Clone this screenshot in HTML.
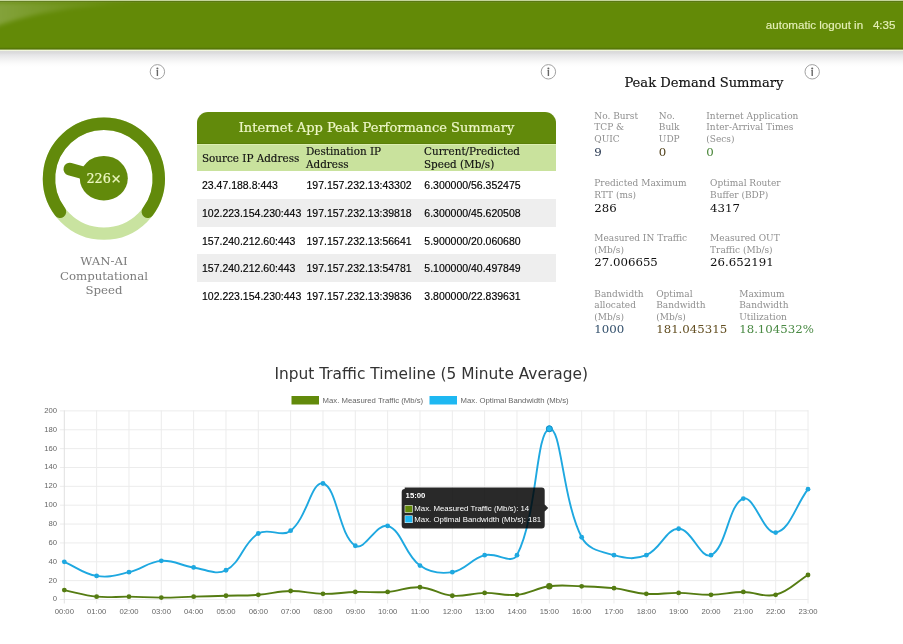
<!DOCTYPE html>
<html><head><meta charset="utf-8"><title>Dashboard</title>
<style>
*{margin:0;padding:0;box-sizing:border-box}
html,body{width:903px;height:644px;overflow:hidden;background:#fff}
body{position:relative;font-family:"Liberation Sans",Arial,sans-serif}
.abs{position:absolute}
#hdr{left:0;top:0;width:903px;height:51px;
 background:linear-gradient(to bottom,#c4d59a 0,#c4d59a 0.8px,#5a7812 1.2px,#5a7812 1.9px,#6b8c16 2.3px,#638a07 3.5px,#638a07 47.3px,#587a08 48px,#557508 49.3px,#eef4d8 49.8px,#f2f6e2 51px);}
#shadow{left:0;top:51px;width:903px;height:16px;background:linear-gradient(to bottom,#d9d9d9 0,#dcdcdd 2px,#e6e6e8 4px,#eeeeef 7px,#f6f6f6 10px,#fcfcfc 13px,#fff 16px)}
.lo{top:18.2px;color:#e6f0b8;font-size:11.6px;white-space:pre;-webkit-text-stroke:0.15px #e6f0b8}
.serif{font-family:"DejaVu Serif",serif}
.ttl{position:absolute;left:197px;top:112px;width:359px;height:32px;background:#628a0b;border-radius:11px 11px 0 0;box-shadow:inset 0 -1px 0 #5a7f09;
 color:#eef7c8;font-family:"DejaVu Serif",serif;font-size:13px;text-align:center;line-height:32px;-webkit-text-stroke:0.2px #eef7c8}
.thead{position:absolute;left:197px;top:144px;width:359px;height:26.6px;background:#c9e29d;border-top:1px solid #dcefb1}
.th{position:absolute;font-family:"DejaVu Serif",serif;font-size:10.4px;color:#111;line-height:12.5px;-webkit-text-stroke:0.15px #111}
.row{position:absolute;left:197px;width:359px;height:27.6px}
.row.g{background:#eeeeee}
.td{position:absolute;font-size:10.5px;color:#000;white-space:nowrap;-webkit-text-stroke:0.15px #000}
.pl{position:absolute;font-family:"DejaVu Serif",serif;font-size:9px;line-height:11.6px;color:#8f8f8f;white-space:nowrap}
.pv{position:absolute;font-family:"DejaVu Serif",serif;font-size:11.75px;color:#111;white-space:nowrap}
</style></head><body>
<div id="hdr" class="abs"></div><div id="shadow" class="abs"></div>
<svg class="abs" style="left:0;top:0" width="200" height="40"><defs><linearGradient id="sg" x1="0" y1="0" x2="1" y2="0"><stop offset="0" stop-color="#fff" stop-opacity="0.22"/><stop offset="0.45" stop-color="#fff" stop-opacity="0.1"/><stop offset="1" stop-color="#fff" stop-opacity="0"/></linearGradient><filter id="sb"><feGaussianBlur stdDeviation="2.2"/></filter></defs>
<path d="M-8,2.2 H150 C100,4 40,9 -8,28 Z" fill="url(#sg)" filter="url(#sb)"/></svg>
<div class="lo abs" style="left:765.8px">automatic logout in</div><div class="lo abs" style="left:872.9px">4:35</div>

<svg class="abs" style="left:0;top:0" width="903" height="644" viewBox="0 0 903 644">
 <g fill="none" stroke="#a2a2a2" stroke-width="1">
  <circle cx="157.4" cy="71.8" r="7.2"/>
  <circle cx="548.4" cy="71.8" r="7.2"/>
  <circle cx="812.2" cy="71.8" r="7.2"/>
 </g>
 <g fill="#666">
  <circle cx="157.4" cy="68.5" r="1.05"/><path d="M156.25,70.0 H158.10 V76 H156.70 V70.6 H156.25 Z"/>
  <circle cx="548.4" cy="68.5" r="1.05"/><path d="M547.25,70.0 H549.10 V76 H547.70 V70.6 H547.25 Z"/>
  <circle cx="812.2" cy="68.5" r="1.05"/><path d="M811.05,70.0 H812.90 V76 H811.50 V70.6 H811.05 Z"/>
 </g>
 <!-- gauge -->
 <circle cx="103.9" cy="178.7" r="54.9" fill="none" stroke="#c9e3a0" stroke-width="12.4"/>
 <path d="M60.05,211.74 A54.9,54.9 0 1 1 147.75,211.74" fill="none" stroke="#628a0b" stroke-width="12.4" stroke-linecap="round"/>
 <line x1="100" y1="177.5" x2="69.8" y2="169.1" stroke="#628a0b" stroke-width="12.6" stroke-linecap="round"/>
 <ellipse cx="103.8" cy="178.2" rx="24" ry="22.3" fill="#628a0b"/>
 <text x="104" y="183" text-anchor="middle" font-family="DejaVu Serif, serif" font-size="12.8" fill="#ecf7c0" stroke="#ecf7c0" stroke-width="0.2">226×</text>
 <g font-family="DejaVu Serif, serif" font-size="11.75" fill="#7c7c7c" text-anchor="middle">
  <text x="104" y="264.7">WAN-AI</text>
  <text x="104" y="279.5">Computational</text>
  <text x="104" y="294.3">Speed</text>
 </g>
</svg>

<div class="ttl">Internet App Peak Performance Summary</div>
<div class="thead"></div>
<div class="th" style="left:202px;top:152px">Source IP Address</div>
<div class="th" style="left:306px;top:145px">Destination IP<br>Address</div>
<div class="th" style="left:424px;top:145px">Current/Predicted<br>Speed (Mb/s)</div>
<div class="row" style="top:171.4px"></div>
<div class="td" style="left:202px;top:179.4px">23.47.188.8:443</div>
<div class="td" style="left:306.5px;top:179.4px">197.157.232.13:43302</div>
<div class="td" style="left:424.3px;top:179.4px">6.300000/56.352475</div>
<div class="row g" style="top:199.1px"></div>
<div class="td" style="left:202px;top:207.1px">102.223.154.230:443</div>
<div class="td" style="left:306.5px;top:207.1px">197.157.232.13:39818</div>
<div class="td" style="left:424.3px;top:207.1px">6.300000/45.620508</div>
<div class="row" style="top:226.8px"></div>
<div class="td" style="left:202px;top:234.8px">157.240.212.60:443</div>
<div class="td" style="left:306.5px;top:234.8px">197.157.232.13:56641</div>
<div class="td" style="left:424.3px;top:234.8px">5.900000/20.060680</div>
<div class="row g" style="top:254.4px"></div>
<div class="td" style="left:202px;top:262.4px">157.240.212.60:443</div>
<div class="td" style="left:306.5px;top:262.4px">197.157.232.13:54781</div>
<div class="td" style="left:424.3px;top:262.4px">5.100000/40.497849</div>
<div class="row" style="top:282.0px"></div>
<div class="td" style="left:202px;top:290.0px">102.223.154.230:443</div>
<div class="td" style="left:306.5px;top:290.0px">197.157.232.13:39836</div>
<div class="td" style="left:424.3px;top:290.0px">3.800000/22.839631</div>

<div class="serif abs" style="left:624.4px;top:75px;font-size:13.1px;color:#111;white-space:nowrap;-webkit-text-stroke:0.15px #111">Peak Demand Summary</div>
<div class="pl" style="left:594.3px;top:110.5px">No. Burst<br>TCP &amp;<br>QUIC</div>
<div class="pv" style="left:594.3px;top:144.5px;color:#26364f">9</div>
<div class="pl" style="left:658.8px;top:110.5px">No.<br>Bulk<br>UDP</div>
<div class="pv" style="left:658.8px;top:144.5px;color:#4f3f18">0</div>
<div class="pl" style="left:706.3px;top:110.5px">Internet Application<br>Inter-Arrival Times<br>(Secs)</div>
<div class="pv" style="left:706.3px;top:144.5px;color:#478436">0</div>
<div class="pl" style="left:594.3px;top:178.4px">Predicted Maximum<br>RTT (ms)</div>
<div class="pv" style="left:594.3px;top:200.7px;color:#111">286</div>
<div class="pl" style="left:710.1px;top:178.4px">Optimal Router<br>Buffer (BDP)</div>
<div class="pv" style="left:710.1px;top:200.7px;color:#111">4317</div>
<div class="pl" style="left:594.3px;top:233.1px">Measured IN Traffic<br>(Mb/s)</div>
<div class="pv" style="left:594.3px;top:254.9px;color:#111">27.006655</div>
<div class="pl" style="left:710.1px;top:233.1px">Measured OUT<br>Traffic (Mb/s)</div>
<div class="pv" style="left:710.1px;top:254.9px;color:#111">26.652191</div>
<div class="pl" style="left:594.3px;top:288.7px">Bandwidth<br>allocated<br>(Mb/s)</div>
<div class="pv" style="left:594.3px;top:321.9px;color:#33506c">1000</div>
<div class="pl" style="left:656.2px;top:288.7px">Optimal<br>Bandwidth<br>(Mb/s)</div>
<div class="pv" style="left:656.2px;top:321.9px;color:#634f22">181.045315</div>
<div class="pl" style="left:739.2px;top:288.7px">Maximum<br>Bandwidth<br>Utilization</div>
<div class="pv" style="left:739.2px;top:321.9px;color:#4a8a44">18.104532%</div>

<div class="abs" style="left:274.4px;top:364.7px;font-family:'DejaVu Sans',sans-serif;font-size:15.4px;color:#333;white-space:nowrap">Input Traffic Timeline (5 Minute Average)</div>
<svg class="abs" style="left:0;top:0" width="903" height="644" viewBox="0 0 903 644">
<rect x="291.5" y="396" width="27.5" height="8.5" fill="#628a0b"/>
<rect x="429.5" y="396" width="27.5" height="8.5" fill="#1eb8f2"/>
<g font-family="Liberation Sans, Arial, sans-serif" font-size="7.75" fill="#666">
<text x="322.5" y="403">Max. Measured Traffic (Mb/s)</text>
<text x="460.5" y="403">Max. Optimal Bandwidth (Mb/s)</text>
</g>
<g stroke="#ececec" stroke-width="1"><line x1="59.8" y1="599.50" x2="808.5" y2="599.50"/><line x1="59.8" y1="580.64" x2="808.5" y2="580.64"/><line x1="59.8" y1="561.78" x2="808.5" y2="561.78"/><line x1="59.8" y1="542.92" x2="808.5" y2="542.92"/><line x1="59.8" y1="524.06" x2="808.5" y2="524.06"/><line x1="59.8" y1="505.20" x2="808.5" y2="505.20"/><line x1="59.8" y1="486.34" x2="808.5" y2="486.34"/><line x1="59.8" y1="467.48" x2="808.5" y2="467.48"/><line x1="59.8" y1="448.62" x2="808.5" y2="448.62"/><line x1="59.8" y1="429.76" x2="808.5" y2="429.76"/><line x1="59.8" y1="410.90" x2="808.5" y2="410.90"/><line x1="64.30" y1="410.4" x2="64.30" y2="603.5" stroke="#e0e0e0"/><line x1="96.63" y1="410.4" x2="96.63" y2="603.5"/><line x1="128.97" y1="410.4" x2="128.97" y2="603.5"/><line x1="161.30" y1="410.4" x2="161.30" y2="603.5"/><line x1="193.64" y1="410.4" x2="193.64" y2="603.5"/><line x1="225.97" y1="410.4" x2="225.97" y2="603.5"/><line x1="258.31" y1="410.4" x2="258.31" y2="603.5"/><line x1="290.64" y1="410.4" x2="290.64" y2="603.5"/><line x1="322.98" y1="410.4" x2="322.98" y2="603.5"/><line x1="355.31" y1="410.4" x2="355.31" y2="603.5"/><line x1="387.65" y1="410.4" x2="387.65" y2="603.5"/><line x1="419.98" y1="410.4" x2="419.98" y2="603.5"/><line x1="452.32" y1="410.4" x2="452.32" y2="603.5"/><line x1="484.65" y1="410.4" x2="484.65" y2="603.5"/><line x1="516.99" y1="410.4" x2="516.99" y2="603.5"/><line x1="549.32" y1="410.4" x2="549.32" y2="603.5"/><line x1="581.66" y1="410.4" x2="581.66" y2="603.5"/><line x1="613.99" y1="410.4" x2="613.99" y2="603.5"/><line x1="646.33" y1="410.4" x2="646.33" y2="603.5"/><line x1="678.66" y1="410.4" x2="678.66" y2="603.5"/><line x1="711.00" y1="410.4" x2="711.00" y2="603.5"/><line x1="743.33" y1="410.4" x2="743.33" y2="603.5"/><line x1="775.67" y1="410.4" x2="775.67" y2="603.5"/><line x1="808.00" y1="410.4" x2="808.00" y2="603.5"/></g>
<g font-family="Liberation Sans, Arial, sans-serif" font-size="7.7" fill="#666"><text x="57.1" y="601.4" text-anchor="end">0</text><text x="57.1" y="582.5" text-anchor="end">20</text><text x="57.1" y="563.7" text-anchor="end">40</text><text x="57.1" y="544.8" text-anchor="end">60</text><text x="57.1" y="526.0" text-anchor="end">80</text><text x="57.1" y="507.1" text-anchor="end">100</text><text x="57.1" y="488.2" text-anchor="end">120</text><text x="57.1" y="469.4" text-anchor="end">140</text><text x="57.1" y="450.5" text-anchor="end">160</text><text x="57.1" y="431.7" text-anchor="end">180</text><text x="57.1" y="412.8" text-anchor="end">200</text><text x="64.3" y="614.2" text-anchor="middle">00:00</text><text x="96.6" y="614.2" text-anchor="middle">01:00</text><text x="129.0" y="614.2" text-anchor="middle">02:00</text><text x="161.3" y="614.2" text-anchor="middle">03:00</text><text x="193.6" y="614.2" text-anchor="middle">04:00</text><text x="226.0" y="614.2" text-anchor="middle">05:00</text><text x="258.3" y="614.2" text-anchor="middle">06:00</text><text x="290.6" y="614.2" text-anchor="middle">07:00</text><text x="323.0" y="614.2" text-anchor="middle">08:00</text><text x="355.3" y="614.2" text-anchor="middle">09:00</text><text x="387.6" y="614.2" text-anchor="middle">10:00</text><text x="420.0" y="614.2" text-anchor="middle">11:00</text><text x="452.3" y="614.2" text-anchor="middle">12:00</text><text x="484.7" y="614.2" text-anchor="middle">13:00</text><text x="517.0" y="614.2" text-anchor="middle">14:00</text><text x="549.3" y="614.2" text-anchor="middle">15:00</text><text x="581.7" y="614.2" text-anchor="middle">16:00</text><text x="614.0" y="614.2" text-anchor="middle">17:00</text><text x="646.3" y="614.2" text-anchor="middle">18:00</text><text x="678.7" y="614.2" text-anchor="middle">19:00</text><text x="711.0" y="614.2" text-anchor="middle">20:00</text><text x="743.3" y="614.2" text-anchor="middle">21:00</text><text x="775.7" y="614.2" text-anchor="middle">22:00</text><text x="808.0" y="614.2" text-anchor="middle">23:00</text></g>
<path d="M64.30,590.07 C77.23,592.71 83.57,595.34 96.63,596.67 C109.44,597.98 116.04,596.48 128.97,596.67 C141.91,596.86 148.37,597.61 161.30,597.61 C174.24,597.61 180.71,597.05 193.64,596.67 C206.57,596.29 213.04,596.11 225.97,595.73 C238.91,595.35 245.42,595.73 258.31,594.78 C271.28,593.84 277.69,591.20 290.64,591.01 C303.56,590.82 310.03,593.65 322.98,593.84 C335.90,594.03 342.37,592.33 355.31,591.96 C368.24,591.58 374.78,592.89 387.65,591.96 C400.65,591.01 407.20,586.50 419.98,587.24 C433.06,588.00 439.19,594.58 452.32,595.73 C465.06,596.84 471.70,593.09 484.65,592.90 C497.57,592.71 504.26,596.08 516.99,594.78 C530.13,593.44 536.17,588.02 549.32,586.30 C562.04,584.63 568.73,585.92 581.66,586.30 C594.60,586.68 601.14,586.69 613.99,588.18 C627.01,589.70 633.30,592.89 646.33,593.84 C659.17,594.78 665.74,592.71 678.66,592.90 C691.60,593.09 698.08,594.97 711.00,594.78 C723.94,594.60 730.40,591.96 743.33,591.96 C756.26,591.96 763.73,597.92 775.67,594.78 C789.60,591.13 795.07,582.90 808.00,574.98" fill="none" stroke="#557c12" stroke-width="1.9"/>
<path d="M64.30,561.78 C77.23,567.44 83.18,573.77 96.63,575.92 C109.05,577.92 116.37,575.09 128.97,572.15 C142.23,569.06 148.13,561.80 161.30,560.84 C174.00,559.91 180.60,565.54 193.64,567.44 C206.47,569.31 215.66,575.68 225.97,570.27 C241.53,562.10 242.75,543.02 258.31,533.49 C268.62,527.18 281.28,537.90 290.64,530.66 C307.14,517.91 311.36,480.80 322.98,483.51 C337.23,486.84 338.52,534.73 355.31,545.75 C364.39,551.71 376.63,522.57 387.65,525.95 C402.50,530.49 404.26,554.32 419.98,565.55 C430.13,572.80 440.04,574.12 452.32,572.15 C465.91,569.97 470.93,558.78 484.65,555.18 C496.80,551.99 511.85,565.22 516.99,555.18 C537.72,514.68 535.47,432.65 549.32,428.82 C561.34,425.49 562.16,499.16 581.66,537.26 C588.03,549.71 600.19,551.36 613.99,555.18 C626.06,558.52 635.04,559.79 646.33,555.18 C660.90,549.23 665.73,528.77 678.66,528.77 C691.59,528.77 700.90,559.89 711.00,555.18 C726.76,547.82 728.29,503.86 743.33,498.60 C754.15,494.81 763.66,534.30 775.67,532.55 C789.52,530.53 795.07,506.52 808.00,489.17" fill="none" stroke="#1ea8e0" stroke-width="1.9"/>
<g fill="#557c12"><circle cx="64.30" cy="590.07" r="2.4"/><circle cx="96.63" cy="596.67" r="2.4"/><circle cx="128.97" cy="596.67" r="2.4"/><circle cx="161.30" cy="597.61" r="2.4"/><circle cx="193.64" cy="596.67" r="2.4"/><circle cx="225.97" cy="595.73" r="2.4"/><circle cx="258.31" cy="594.78" r="2.4"/><circle cx="290.64" cy="591.01" r="2.4"/><circle cx="322.98" cy="593.84" r="2.4"/><circle cx="355.31" cy="591.96" r="2.4"/><circle cx="387.65" cy="591.96" r="2.4"/><circle cx="419.98" cy="587.24" r="2.4"/><circle cx="452.32" cy="595.73" r="2.4"/><circle cx="484.65" cy="592.90" r="2.4"/><circle cx="516.99" cy="594.78" r="2.4"/><circle cx="549.32" cy="586.30" r="3.2"/><circle cx="581.66" cy="586.30" r="2.4"/><circle cx="613.99" cy="588.18" r="2.4"/><circle cx="646.33" cy="593.84" r="2.4"/><circle cx="678.66" cy="592.90" r="2.4"/><circle cx="711.00" cy="594.78" r="2.4"/><circle cx="743.33" cy="591.96" r="2.4"/><circle cx="775.67" cy="594.78" r="2.4"/><circle cx="808.00" cy="574.98" r="2.4"/></g>
<g fill="#1ea8e0"><circle cx="64.30" cy="561.78" r="2.4"/><circle cx="96.63" cy="575.92" r="2.4"/><circle cx="128.97" cy="572.15" r="2.4"/><circle cx="161.30" cy="560.84" r="2.4"/><circle cx="193.64" cy="567.44" r="2.4"/><circle cx="225.97" cy="570.27" r="2.4"/><circle cx="258.31" cy="533.49" r="2.4"/><circle cx="290.64" cy="530.66" r="2.4"/><circle cx="322.98" cy="483.51" r="2.4"/><circle cx="355.31" cy="545.75" r="2.4"/><circle cx="387.65" cy="525.95" r="2.4"/><circle cx="419.98" cy="565.55" r="2.4"/><circle cx="452.32" cy="572.15" r="2.4"/><circle cx="484.65" cy="555.18" r="2.4"/><circle cx="516.99" cy="555.18" r="2.4"/><circle cx="549.32" cy="428.82" r="3.2"/><circle cx="581.66" cy="537.26" r="2.4"/><circle cx="613.99" cy="555.18" r="2.4"/><circle cx="646.33" cy="555.18" r="2.4"/><circle cx="678.66" cy="528.77" r="2.4"/><circle cx="711.00" cy="555.18" r="2.4"/><circle cx="743.33" cy="498.60" r="2.4"/><circle cx="775.67" cy="532.55" r="2.4"/><circle cx="808.00" cy="489.17" r="2.4"/></g>
<circle cx="549.32" cy="428.82" r="3" fill="#22b8f0" stroke="#1a90c4" stroke-width="1"/>
<g>
<path d="M404.7,487.5 h137 a3,3 0 0 1 3,3 v14 l3.5,3.5 l-3.5,3.5 v13.9 a3,3 0 0 1 -3,3 h-137 a3,3 0 0 1 -3,-3 v-33.5 a3,3 0 0 1 3,-3 z" fill="rgba(0,0,0,0.84)"/>
<text x="405.6" y="497.8" font-family="Liberation Sans, Arial, sans-serif" font-size="7.75" font-weight="bold" fill="#fff">15:00</text>
<rect x="404.7" y="505.2" width="8" height="7.6" fill="#fff"/><rect x="405.2" y="505.7" width="7" height="6.6" fill="#628a0b"/>
<rect x="404.7" y="515.4" width="8" height="7.6" fill="#fff"/><rect x="405.2" y="515.9" width="7" height="6.6" fill="#1eb8f2"/>
<g font-family="Liberation Sans, Arial, sans-serif" font-size="7.85" fill="#fff">
<text x="414.3" y="511.4">Max. Measured Traffic (Mb/s): 14</text>
<text x="414.3" y="521.8">Max. Optimal Bandwidth (Mb/s): 181</text>
</g>
</g>
</svg>
</body></html>
